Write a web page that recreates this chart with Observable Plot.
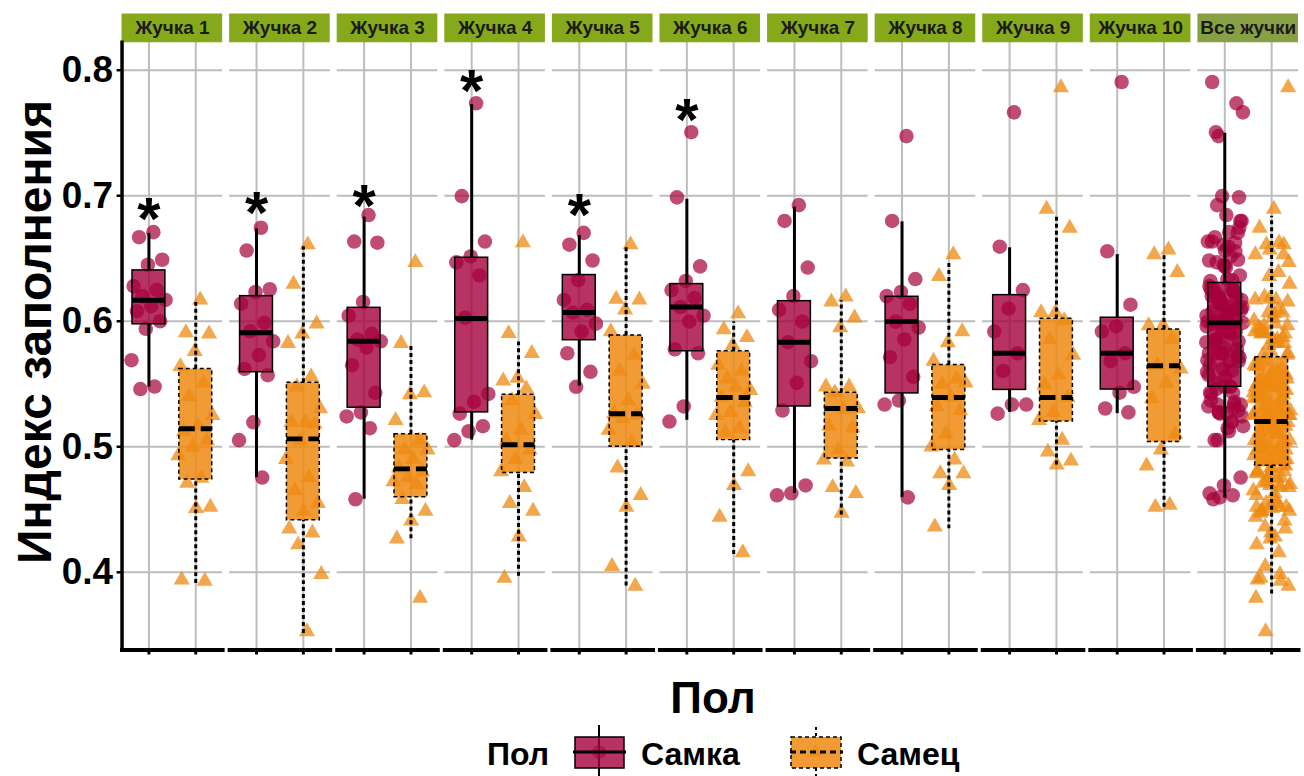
<!DOCTYPE html>
<html>
<head>
<meta charset="utf-8">
<script src="https://cdn.jsdelivr.net/npm/d3@7"></script>
<script src="https://cdn.jsdelivr.net/npm/@observablehq/plot@0.6"></script>
<style>
  html, body { margin: 0; padding: 0; background: #fff; overflow: hidden; }
  #wrap { position: relative; width: 1304px; height: 776px; overflow: hidden; font-family: "Liberation Sans", Arial, sans-serif; }
  #chart { position: absolute; left: 0; top: 0; }
  #overlay { position: absolute; left: 0; top: 0; pointer-events: none; }
</style>
</head>
<body>
<div id="wrap">
  <div id="chart"></div>
  <svg id="overlay" width="1304" height="776"></svg>
</div>
<script>
// ---------------- data ----------------
const beetles = ["Жучка 1","Жучка 2","Жучка 3","Жучка 4","Жучка 5","Жучка 6","Жучка 7","Жучка 8","Жучка 9","Жучка 10","Все жучки"];
const sexes = ["Самка","Самец"];
const yTicks = [0.4, 0.5, 0.6, 0.7, 0.8];

// individual values (Жучка 1 ... Жучка 10); "Все жучки" = all of them together
const femaleValues = [
  [0.671,0.667,0.649,0.645,0.628,0.625,0.620,0.617,0.612,0.608,0.600,0.594,0.569,0.548,0.546],
  [0.6745,0.6563,0.6255,0.6233,0.614,0.5987,0.592,0.584,0.573,0.562,0.557,0.5195,0.5053,0.4755],
  [0.6846,0.6635,0.6626,0.6154,0.6044,0.59,0.5855,0.584,0.579,0.565,0.543,0.5274,0.5242,0.5148,0.4582],
  [0.7736,0.6997,0.6635,0.6516,0.6469,0.6365,0.6028,0.5421,0.5358,0.5264,0.5164,0.5123,0.5053],
  [0.6704,0.661,0.6484,0.6327,0.617,0.6091,0.6069,0.5981,0.5918,0.5745,0.5597,0.5478],
  [0.7506,0.6987,0.6437,0.6321,0.6248,0.6186,0.6113,0.6044,0.5997,0.5777,0.5745,0.5321,0.5201],
  [0.6925,0.6799,0.6428,0.6201,0.6091,0.5997,0.5833,0.5682,0.5509,0.5289,0.4692,0.4629,0.4613],
  [0.7475,0.6799,0.6336,0.6233,0.62,0.6138,0.5997,0.595,0.5855,0.5714,0.5557,0.5368,0.5336,0.4597],
  [0.7664,0.6594,0.6248,0.6101,0.5918,0.5745,0.5604,0.5336,0.5336,0.5264],
  [0.7906,0.6557,0.6132,0.5959,0.5918,0.5745,0.5682,0.5478,0.5431,0.5305,0.5274]
];
const maleValues = [
  [0.617,0.591,0.590,0.576,0.564,0.551,0.540,0.525,0.517,0.512,0.505,0.500,0.493,0.475,0.471,0.452,0.451,0.394,0.393],
  [0.661,0.6296,0.598,0.590,0.5824,0.5557,0.5478,0.5305,0.5195,0.5195,0.518,0.505,0.49,0.4755,0.465,0.455,0.4487,0.4346,0.4315,0.422,0.3984,0.3528],
  [0.6469,0.5824,0.5431,0.5415,0.5211,0.505,0.4975,0.4975,0.49,0.4833,0.48,0.4755,0.4723,0.47,0.4582,0.4487,0.4409,0.4267,0.3795],
  [0.6626,0.5903,0.5745,0.5547,0.5525,0.5462,0.5368,0.5258,0.5132,0.505,0.4975,0.49,0.4802,0.4676,0.455,0.4487,0.4283,0.3953],
  [0.661,0.6176,0.617,0.6091,0.5918,0.573,0.5604,0.55,0.5368,0.5264,0.525,0.5226,0.5132,0.5038,0.4833,0.4613,0.4519,0.4047,0.389],
  [0.606,0.5934,0.5871,0.5808,0.565,0.5604,0.5541,0.545,0.5478,0.5393,0.5352,0.5274,0.525,0.5148,0.5116,0.4802,0.4692,0.444,0.4157],
  [0.6195,0.6154,0.6028,0.595,0.5478,0.5478,0.5431,0.5305,0.53,0.5164,0.515,0.4975,0.4896,0.488,0.4676,0.4629,0.4472],
  [0.6531,0.6358,0.5918,0.583,0.5682,0.5541,0.55,0.5509,0.5393,0.5321,0.5289,0.51,0.50,0.4896,0.4786,0.4786,0.4692,0.4362],
  [0.7862,0.6893,0.6742,0.6069,0.6069,0.6006,0.5855,0.573,0.5572,0.5494,0.5393,0.5274,0.5211,0.5053,0.4959,0.4887,0.4855],
  [0.6569,0.6531,0.639,0.5965,0.5965,0.5855,0.5651,0.562,0.5509,0.5384,0.5101,0.4975,0.4849,0.4535,0.4519]
];

// box statistics (one per facet, incl. "Все жучки")
const femaleQ1  = [0.5976,0.5594,0.5311,0.5274,0.5849,0.5761,0.5321,0.5425,0.5453,0.5456,0.5478];
const femaleMed = [0.6167,0.5909,0.5840,0.6022,0.6069,0.6113,0.5833,0.5997,0.5745,0.5745,0.5987];
const femaleQ3  = [0.6405,0.6200,0.6107,0.6506,0.6368,0.6296,0.6160,0.6195,0.6208,0.6028,0.6305];
const femaleLo  = [0.5476,0.4755,0.4582,0.5053,0.5484,0.5211,0.4629,0.4597,0.5274,0.5264,0.4591];
const femaleHi  = [0.6700,0.6736,0.6830,0.7726,0.6682,0.6972,0.6909,0.6792,0.6585,0.6531,0.7497];
const maleQ1    = [0.4740,0.4415,0.4597,0.4792,0.5000,0.5053,0.4906,0.4975,0.5201,0.5038,0.4849];
const maleMed   = [0.5143,0.5063,0.4824,0.5016,0.5264,0.5393,0.5305,0.5393,0.5393,0.5645,0.5201];
const maleQ3    = [0.5619,0.5510,0.5100,0.5415,0.5887,0.5761,0.5431,0.5651,0.6019,0.5934,0.5714];
const maleLo    = [0.3910,0.3513,0.4267,0.3969,0.3890,0.4142,0.4456,0.4346,0.4855,0.4519,0.3827];
const maleHi    = [0.6150,0.6594,0.5808,0.5855,0.6594,0.5997,0.6164,0.6478,0.6846,0.6531,0.6836];

// significance markers
const starBeetles = ["Жучка 1","Жучка 2","Жучка 3","Жучка 4","Жучка 5","Жучка 6"];
const starY = [0.692,0.697,0.702,0.794,0.695,0.771];

// ---------------- build tables ----------------
const allName = beetles[beetles.length - 1];
const counters = {};
const points = [];
function addPoint(beetle, s, v) {
  const key = beetle + "|" + s;
  const i = counters[key] = (counters[key] || 0) + 1;
  // deterministic spread (golden-ratio sequence) for the jitter
  const j = ((i * 0.6180339887) % 1 - 0.5) * 0.8;
  points.push({beetle, sex: sexes[s], pos: s, v, j});
}
femaleValues.forEach((arr, b) => arr.forEach(v => { addPoint(beetles[b], 0, v); addPoint(allName, 0, v); }));
maleValues.forEach((arr, b) => arr.forEach(v => { addPoint(beetles[b], 1, v); addPoint(allName, 1, v); }));

const fStats = beetles.map((b, k) => ({beetle: b, pos: 0, q1: femaleQ1[k], med: femaleMed[k], q3: femaleQ3[k], lo: femaleLo[k], hi: femaleHi[k]}));
const mStats = beetles.map((b, k) => ({beetle: b, pos: 1, q1: maleQ1[k], med: maleMed[k], q3: maleQ3[k], lo: maleLo[k], hi: maleHi[k]}));
const stars = starBeetles.map((b, k) => ({beetle: b, y: starY[k]}));

const fPts = points.filter(d => d.pos === 0);
const mPts = points.filter(d => d.pos === 1);

// ---------------- style ----------------
const FONT = "'Liberation Sans', Arial, sans-serif";
const FEMALE = "#a5003c";
const MALE = "#ee8a12";
const GRID = "#bdbdbd";
const STRIP = "#85a91b";
const STRIP_ALL = "#88a044";
const hw = 0.351;
const yDomain = [0.3381, 0.8222];

const chart = Plot.plot({
  width: 1309,
  height: 660,
  marginLeft: 122,
  marginRight: 0,
  marginTop: 42,
  marginBottom: 8,
  style: {fontFamily: FONT, background: "white", overflow: "visible"},
  fx: {domain: beetles, paddingInner: 0.0645, paddingOuter: 0, align: 0, axis: null, label: null},
  x: {type: "linear", domain: [-0.574, 1.574]},
  y: {domain: yDomain},
  marks: [
    Plot.gridY({ticks: yTicks, stroke: GRID, strokeOpacity: 1, strokeWidth: 2}),
    Plot.gridX({ticks: [0, 1], stroke: GRID, strokeOpacity: 1, strokeWidth: 2}),
    // facet strips
    Plot.ruleY(beetles.filter(b => b !== allName), {fx: d => d, y: () => yDomain[1], dy: -14.5, stroke: STRIP, strokeWidth: 29}),
    Plot.ruleY([allName], {fx: d => d, y: () => yDomain[1], dy: -14.5, stroke: STRIP_ALL, strokeWidth: 29}),
    Plot.text(beetles, {fx: d => d, text: d => d, frameAnchor: "top", dy: -14, lineAnchor: "middle", fontSize: 19, fontWeight: "bold", fill: "#1a1a1a"}),
    // jittered points
    Plot.dot(fPts, {fx: "beetle", x: d => d.pos + d.j, y: "v", r: 7.3, fill: FEMALE, fillOpacity: 0.7, stroke: "none"}),
    Plot.dot(mPts, {fx: "beetle", x: d => d.pos + d.j, y: "v", r: 6, symbol: "triangle", fill: MALE, fillOpacity: 0.75, stroke: "none"}),
    // whiskers
    Plot.ruleX(fStats, {fx: "beetle", x: "pos", y1: "q3", y2: "hi", stroke: "black", strokeWidth: 3}),
    Plot.ruleX(fStats, {fx: "beetle", x: "pos", y1: "lo", y2: "q1", stroke: "black", strokeWidth: 3}),
    Plot.ruleX(mStats, {fx: "beetle", x: "pos", y1: "q3", y2: "hi", stroke: "black", strokeWidth: 3, strokeDasharray: "4,3"}),
    Plot.ruleX(mStats, {fx: "beetle", x: "pos", y1: "lo", y2: "q1", stroke: "black", strokeWidth: 3, strokeDasharray: "4,3"}),
    // boxes
    Plot.rect(fStats, {fx: "beetle", x1: d => d.pos - hw, x2: d => d.pos + hw, y1: "q1", y2: "q3", fill: FEMALE, fillOpacity: 0.8, stroke: "black", strokeWidth: 1.5}),
    Plot.rect(mStats, {fx: "beetle", x1: d => d.pos - hw, x2: d => d.pos + hw, y1: "q1", y2: "q3", fill: MALE, fillOpacity: 0.85, stroke: "black", strokeWidth: 1.5, strokeDasharray: "4,3"}),
    // medians
    Plot.ruleY(fStats, {fx: "beetle", x1: d => d.pos - hw, x2: d => d.pos + hw, y: "med", stroke: "black", strokeWidth: 5}),
    Plot.ruleY(mStats, {fx: "beetle", x1: d => d.pos - hw, x2: d => d.pos + hw, y: "med", stroke: "black", strokeWidth: 5, strokeDasharray: "16,6"}),
    // significance stars
    Plot.text(stars, {fx: "beetle", x: () => 0, y: "y", text: () => "*", fontSize: 60, fontWeight: "bold", fill: "black", lineAnchor: "middle", dy: 14}),
    // axes
    Plot.axisY({ticks: yTicks, tickFormat: d => d.toFixed(1), tickSize: 5, tickPadding: 4, fontSize: 37, fontWeight: "bold", fill: "black", stroke: "black", strokeWidth: 2.5, label: null}),
    Plot.axisX({ticks: [0, 1], tickFormat: () => "", tickSize: 5, stroke: "black", strokeWidth: 3, label: null}),
    Plot.frame({anchor: "left", facetAnchor: "left", stroke: "black", strokeWidth: 3.5}),
    Plot.frame({anchor: "bottom", stroke: "black", strokeWidth: 4})
  ]
});
document.getElementById("chart").appendChild(chart);

// ---------------- titles and legend ----------------
const ov = d3.select("#overlay").style("font-family", FONT).style("font-weight", "bold");
ov.append("text").attr("transform", "translate(51,332) rotate(-90)").attr("text-anchor", "middle")
  .attr("font-size", 48).attr("fill", "black").text("Индекс заполнения");
ov.append("text").attr("x", 713).attr("y", 713).attr("text-anchor", "middle")
  .attr("font-size", 44).attr("fill", "black").text("Пол");

const lg = ov.append("g");
lg.append("text").attr("x", 487).attr("y", 765).attr("font-size", 32).text("Пол");
// key: Самка
lg.append("line").attr("x1", 599).attr("x2", 599).attr("y1", 725).attr("y2", 776).attr("stroke", "black").attr("stroke-width", 2);
lg.append("rect").attr("x", 575).attr("y", 737).attr("width", 49).attr("height", 31)
  .attr("fill", FEMALE).attr("fill-opacity", 0.8).attr("stroke", "black").attr("stroke-width", 1.5);
lg.append("circle").attr("cx", 599).attr("cy", 752).attr("r", 7).attr("fill", FEMALE).attr("fill-opacity", 0.5);
lg.append("line").attr("x1", 573).attr("x2", 626).attr("y1", 752).attr("y2", 752).attr("stroke", "black").attr("stroke-width", 3);
lg.append("text").attr("x", 641).attr("y", 765).attr("font-size", 32).text(sexes[0]);
// key: Самец
lg.append("line").attr("x1", 816).attr("x2", 816).attr("y1", 727).attr("y2", 737).attr("stroke", "black").attr("stroke-width", 2).attr("stroke-dasharray", "3,3");
lg.append("line").attr("x1", 816).attr("x2", 816).attr("y1", 768).attr("y2", 776).attr("stroke", "black").attr("stroke-width", 2).attr("stroke-dasharray", "3,3");
lg.append("rect").attr("x", 791).attr("y", 737).attr("width", 50).attr("height", 31)
  .attr("fill", MALE).attr("fill-opacity", 0.85).attr("stroke", "black").attr("stroke-width", 1.5).attr("stroke-dasharray", "4,3");
lg.append("path").attr("d", d3.symbol(d3.symbolTriangle, 100)()).attr("transform", "translate(816,752)").attr("fill", MALE).attr("fill-opacity", 0.6);
lg.append("line").attr("x1", 790).attr("x2", 843).attr("y1", 752).attr("y2", 752).attr("stroke", "black").attr("stroke-width", 3).attr("stroke-dasharray", "6,4");
lg.append("text").attr("x", 857).attr("y", 765).attr("font-size", 32).text(sexes[1]);
</script>
</body>
</html>
